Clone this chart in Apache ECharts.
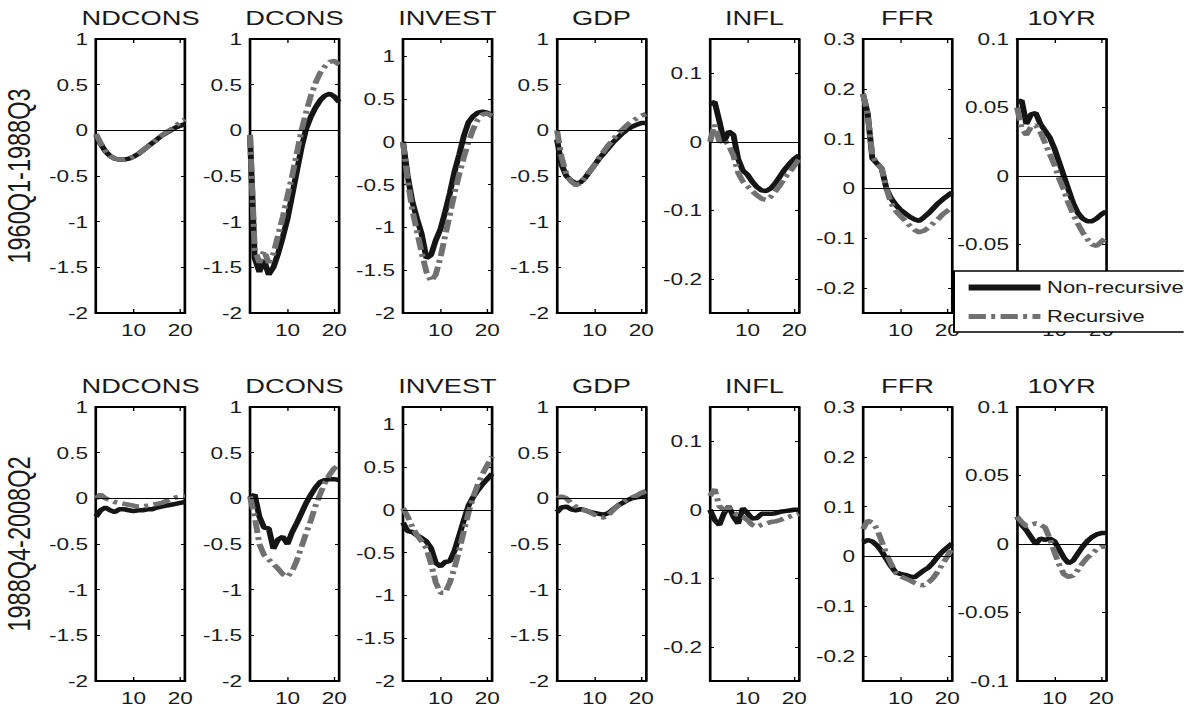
<!DOCTYPE html>
<html>
<head>
<meta charset="utf-8">
<script src="https://cdn.jsdelivr.net/npm/echarts@6/dist/echarts.min.js"></script>
<style>
html,body{margin:0;padding:0;background:#fff;overflow:hidden;width:1184px;height:707px;}
#chart{position:absolute;left:0;top:0;height:707px;transform-origin:0 0;}
</style>
</head>
<body>
<div id="chart"></div>
<script>
// ---------------- DATA ----------------
const VARIABLES = ['NDCONS', 'DCONS', 'INVEST', 'GDP', 'INFL', 'FFR', '10YR'];
const PERIODS = ['1960Q1-1988Q3', '1988Q4-2008Q2'];
const HORIZON = [2, 3, 4, 5, 6, 7, 8, 9, 10, 11, 12, 13, 14, 15, 16, 17, 18, 19, 20, 21];
const X_TICKS = [10, 20];

// y-axis ranges and tick labels per variable
const Y_MIN = [-2, -2, -2, -2, -0.25, -0.25, -0.1];
const Y_MAX = [1, 1, 1.2, 1, 0.15, 0.3, 0.1];
const TICKS_BIG = [-2, -1.5, -1, -0.5, 0, 0.5, 1];
const TICKS_INFL = [-0.2, -0.1, 0, 0.1];
const TICKS_FFR = [-0.2, -0.1, 0, 0.1, 0.2, 0.3];
const TICKS_10YR = [-0.1, -0.05, 0, 0.05, 0.1];

// Period 1: 1960Q1-1988Q3  (NR = non-recursive, R = recursive)
const NDCONS_1_NR = [-0.05,-0.15,-0.23,-0.28,-0.31,-0.32,-0.32,-0.31,-0.29,-0.26,-0.22,-0.18,-0.14,-0.1,-0.06,-0.03,0.0,0.03,0.05,0.07];
const NDCONS_1_R  = [-0.04,-0.14,-0.22,-0.28,-0.31,-0.32,-0.32,-0.31,-0.29,-0.26,-0.22,-0.18,-0.14,-0.1,-0.06,-0.02,0.01,0.05,0.09,0.12];
const DCONS_1_NR  = [-0.05,-1.4,-1.55,-1.42,-1.58,-1.5,-1.35,-1.17,-0.97,-0.71,-0.45,-0.19,0.02,0.15,0.25,0.33,0.38,0.4,0.37,0.31];
const DCONS_1_R   = [-0.05,-1.3,-1.45,-1.32,-1.45,-1.35,-1.15,-0.95,-0.72,-0.5,-0.25,0.0,0.2,0.38,0.52,0.63,0.7,0.75,0.76,0.72];
const INVEST_1_NR = [0.0,-0.4,-0.7,-0.9,-1.08,-1.36,-1.32,-1.15,-1.02,-0.82,-0.6,-0.35,-0.15,0.07,0.23,0.3,0.34,0.35,0.34,0.3];
const INVEST_1_R  = [0.0,-0.45,-0.8,-1.05,-1.3,-1.52,-1.63,-1.55,-1.35,-1.1,-0.85,-0.6,-0.38,-0.18,0.0,0.15,0.26,0.32,0.33,0.3];
const GDP_1_NR    = [-0.1,-0.38,-0.5,-0.55,-0.58,-0.57,-0.52,-0.45,-0.38,-0.31,-0.25,-0.19,-0.13,-0.08,-0.03,0.01,0.04,0.06,0.08,0.08];
const GDP_1_R     = [0.0,-0.3,-0.48,-0.56,-0.6,-0.58,-0.52,-0.45,-0.38,-0.3,-0.23,-0.16,-0.1,-0.04,0.01,0.06,0.1,0.13,0.16,0.18];
const INFL_1_NR   = [0.055,0.058,0.03,0.0,0.015,0.01,-0.025,-0.042,-0.048,-0.058,-0.066,-0.071,-0.072,-0.068,-0.06,-0.05,-0.04,-0.032,-0.025,-0.02];
const INFL_1_R    = [0.0,0.025,0.0,0.003,-0.005,-0.02,-0.045,-0.058,-0.065,-0.072,-0.078,-0.083,-0.085,-0.08,-0.072,-0.063,-0.052,-0.045,-0.035,-0.025];
const FFR_1_NR    = [0.19,0.15,0.06,0.05,0.04,0.0,-0.02,-0.033,-0.043,-0.05,-0.057,-0.062,-0.065,-0.058,-0.05,-0.04,-0.03,-0.022,-0.015,-0.008];
const FFR_1_R     = [0.19,0.15,0.065,0.05,0.04,0.0,-0.03,-0.045,-0.055,-0.065,-0.075,-0.083,-0.088,-0.085,-0.078,-0.07,-0.062,-0.052,-0.045,-0.038];
const YR10_1_NR   = [0.054,0.055,0.038,0.045,0.046,0.038,0.033,0.028,0.02,0.01,0.0,-0.01,-0.02,-0.027,-0.031,-0.033,-0.033,-0.031,-0.028,-0.026];
const YR10_1_R    = [0.05,0.035,0.03,0.036,0.037,0.032,0.024,0.016,0.008,-0.002,-0.01,-0.02,-0.028,-0.035,-0.041,-0.046,-0.05,-0.051,-0.048,-0.045];

// Period 2: 1988Q4-2008Q2
const NDCONS_2_NR = [-0.2,-0.13,-0.1,-0.13,-0.15,-0.12,-0.12,-0.13,-0.14,-0.13,-0.13,-0.12,-0.12,-0.1,-0.09,-0.08,-0.07,-0.06,-0.05,-0.04];
const NDCONS_2_R  = [0.0,0.04,0.0,-0.02,-0.04,-0.05,-0.06,-0.07,-0.08,-0.09,-0.09,-0.08,-0.07,-0.06,-0.05,-0.03,-0.01,0.01,0.02,0.02];
const DCONS_2_NR  = [0.0,0.04,-0.2,-0.32,-0.33,-0.55,-0.45,-0.42,-0.5,-0.37,-0.27,-0.16,-0.05,0.04,0.12,0.18,0.2,0.21,0.21,0.2];
const DCONS_2_R   = [0.02,-0.2,-0.5,-0.62,-0.67,-0.72,-0.77,-0.83,-0.86,-0.8,-0.68,-0.53,-0.38,-0.24,-0.08,0.05,0.17,0.26,0.33,0.37];
const INVEST_2_NR = [-0.15,-0.25,-0.26,-0.3,-0.33,-0.37,-0.45,-0.62,-0.66,-0.61,-0.6,-0.48,-0.3,-0.12,0.05,0.15,0.23,0.3,0.36,0.42];
const INVEST_2_R  = [0.02,-0.08,-0.2,-0.3,-0.37,-0.45,-0.63,-0.85,-0.97,-0.97,-0.85,-0.68,-0.47,-0.25,-0.03,0.15,0.3,0.42,0.52,0.62];
const GDP_2_NR    = [-0.15,-0.1,-0.09,-0.12,-0.13,-0.12,-0.13,-0.15,-0.16,-0.17,-0.18,-0.16,-0.12,-0.08,-0.05,-0.02,0.0,0.01,0.02,0.02];
const GDP_2_R     = [0.0,0.02,0.0,-0.05,-0.09,-0.12,-0.13,-0.15,-0.18,-0.2,-0.21,-0.18,-0.13,-0.08,-0.04,-0.01,0.01,0.03,0.06,0.08];
const INFL_2_NR   = [0.0,-0.015,-0.022,-0.005,0.005,-0.01,-0.02,0.002,-0.005,-0.013,-0.012,-0.006,-0.006,-0.006,-0.005,-0.003,-0.002,-0.001,0.0,0.0];
const INFL_2_R    = [0.02,0.03,0.005,0.0,0.003,-0.004,-0.008,-0.01,-0.015,-0.022,-0.025,-0.022,-0.02,-0.018,-0.017,-0.015,-0.012,-0.01,-0.008,-0.006];
const FFR_2_NR    = [0.028,0.033,0.03,0.022,0.01,-0.005,-0.02,-0.032,-0.035,-0.037,-0.04,-0.042,-0.035,-0.028,-0.022,-0.012,0.0,0.01,0.018,0.026];
const FFR_2_R     = [0.055,0.072,0.068,0.055,0.03,0.005,-0.015,-0.033,-0.04,-0.044,-0.048,-0.053,-0.057,-0.058,-0.052,-0.043,-0.03,-0.015,0.0,0.018];
const YR10_2_NR   = [0.02,0.014,0.01,0.005,0.0,0.004,0.003,0.004,0.002,-0.004,-0.01,-0.014,-0.012,-0.007,-0.002,0.002,0.005,0.007,0.008,0.008];
const YR10_2_R    = [0.02,0.016,0.013,0.014,0.015,0.014,0.012,0.004,-0.006,-0.015,-0.022,-0.024,-0.023,-0.019,-0.014,-0.01,-0.007,-0.004,-0.002,-0.002];

const NR = [
  [NDCONS_1_NR, DCONS_1_NR, INVEST_1_NR, GDP_1_NR, INFL_1_NR, FFR_1_NR, YR10_1_NR],
  [NDCONS_2_NR, DCONS_2_NR, INVEST_2_NR, GDP_2_NR, INFL_2_NR, FFR_2_NR, YR10_2_NR]
];
const RC = [
  [NDCONS_1_R, DCONS_1_R, INVEST_1_R, GDP_1_R, INFL_1_R, FFR_1_R, YR10_1_R],
  [NDCONS_2_R, DCONS_2_R, INVEST_2_R, GDP_2_R, INFL_2_R, FFR_2_R, YR10_2_R]
];
const Y_TICKS = [TICKS_BIG, TICKS_BIG, TICKS_BIG, TICKS_BIG, TICKS_INFL, TICKS_FFR, TICKS_10YR];

// ---------------- LAYOUT ----------------
const K = 1.33;                 // horizontal stretch of the reference
const W = 1184 / K;
const COL_LEFT = [96, 250, 403, 557, 710, 863, 1017];
const PANEL_W = 89;
const ROW_TOP = [39, 407];
const PANEL_H = 274;
const FONT = '"Liberation Sans", Arial, Helvetica, sans-serif';
const TXT = '#1a1a1a';
const BLACK = '#151515';
const GRAY = '#717171';
const DASH = [13, 4, 3, 4];

const el = document.getElementById('chart');
el.style.width = W + 'px';
el.style.transform = 'scaleX(' + K + ')';

const grid = [], xAxis = [], yAxis = [], series = [], title = [];
const fmt = v => String(v);

for (let r = 0; r < 2; r++) {
  for (let c = 0; c < 7; c++) {
    const i = r * 7 + c;
    grid.push({left: COL_LEFT[c] / K, top: ROW_TOP[r], width: PANEL_W / K, height: PANEL_H, containLabel: false});
    title.push({
      text: VARIABLES[c], left: (COL_LEFT[c] + PANEL_W / 2) / K, top: ROW_TOP[r] - 32,
      textAlign: 'center', padding: 0,
      textStyle: {fontSize: 20.5, fontWeight: 'normal', color: TXT, fontFamily: FONT}
    });
    const axLine = {show: true, onZero: false, lineStyle: {color: '#000', width: 2}};
    ['bottom', 'top'].forEach((pos, k) => {
      xAxis.push({
        gridIndex: i, type: 'value', min: 2, max: 21, position: pos,
        axisLine: axLine,
        axisTick: {show: true, inside: true, length: 4, customValues: X_TICKS, lineStyle: {color: '#000', width: 1}},
        axisLabel: {show: k === 0, customValues: X_TICKS, formatter: fmt, fontSize: 17, color: TXT, fontFamily: FONT, margin: 9},
        splitLine: {show: false}
      });
    });
    ['left', 'right'].forEach((pos, k) => {
      const ax = {
        gridIndex: i, type: 'value', min: Y_MIN[c], max: Y_MAX[c], position: pos,
        axisLine: axLine,
        axisTick: {show: true, inside: true, length: 3, customValues: Y_TICKS[c], lineStyle: {color: '#000', width: 1}},
        axisLabel: {show: k === 0, customValues: Y_TICKS[c], formatter: fmt, fontSize: 17, color: TXT, fontFamily: FONT, margin: 6},
        splitLine: {show: false}
      };
      if (k === 0 && c === 0) {
        ax.name = PERIODS[r];
        ax.nameLocation = 'middle';
        ax.nameRotate = 90;
        ax.nameGap = 46;
        ax.nameTextStyle = {fontSize: 23.5, color: TXT, fontFamily: FONT};
      }
      yAxis.push(ax);
    });
    series.push({
      name: 'Non-recursive', type: 'line', xAxisIndex: 2 * i, yAxisIndex: 2 * i,
      data: HORIZON.map((h, j) => [h, NR[r][c][j]]),
      symbol: 'none', z: 2,
      lineStyle: {color: BLACK, width: 4.5},
      itemStyle: {color: BLACK},
      markLine: {
        silent: true, symbol: ['none', 'none'], label: {show: false},
        lineStyle: {color: '#000', width: 1, type: 'solid'},
        emphasis: {disabled: true},
        data: [{yAxis: 0}]
      }
    });
    series.push({
      name: 'Recursive', type: 'line', xAxisIndex: 2 * i, yAxisIndex: 2 * i,
      data: HORIZON.map((h, j) => [h, RC[r][c][j]]),
      symbol: 'none', z: 3,
      lineStyle: {color: GRAY, width: 4.5, type: DASH},
      itemStyle: {color: GRAY}
    });
  }
}

const option = {
  animation: false,
  backgroundColor: '#fff',
  title: title,
  grid: grid,
  xAxis: xAxis,
  yAxis: yAxis,
  series: series,
  legend: {
    orient: 'vertical', left: 954 / K, top: 271,
    padding: [8, 40, 7, 8],
    itemWidth: 54, itemHeight: 16, itemGap: 12,
    backgroundColor: '#fff', borderColor: '#000', borderWidth: 1.5, borderRadius: 0,
    selectedMode: false, z: 20,
    textStyle: {fontSize: 16.5, color: TXT, fontFamily: FONT},
    data: [
      {name: 'Non-recursive', itemStyle: {opacity: 0}, lineStyle: {color: BLACK, width: 6, type: 'solid'}},
      {name: 'Recursive', itemStyle: {opacity: 0}, lineStyle: {color: GRAY, width: 5, type: DASH}}
    ]
  }
};

const chart = echarts.init(el, null, {renderer: 'svg', width: W, height: 707});
chart.setOption(option);
</script>
</body>
</html>
